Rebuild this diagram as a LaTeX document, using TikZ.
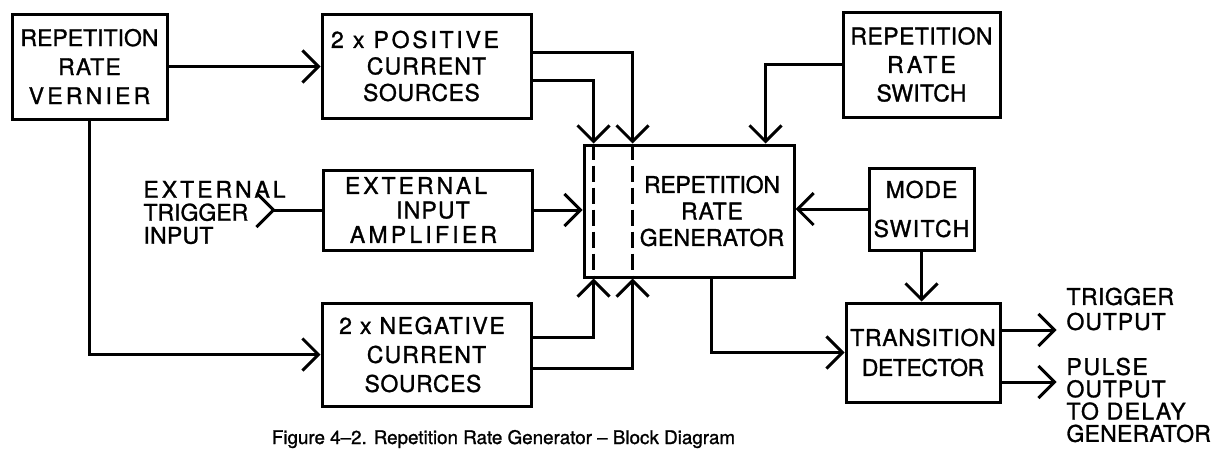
\documentclass[tikz,border=0pt]{standalone}
\usepackage{fontspec}
\setmainfont{TeX Gyre Heros}[FakeBold=1.2]
\usetikzlibrary{arrows.meta,calc}
\newcommand\ls[2]{{\addfontfeature{LetterSpace=#1}#2}}
\begin{document}
\begin{tikzpicture}[x=1pt,y=-1pt,line width=3pt,
  box/.style={draw,line width=3pt,inner sep=0pt,align=center},
  fs/.style={font=\fontsize{23}{#1}\selectfont},
  lbl/.style={inner sep=0pt,align=left},
  dashline/.style={line width=3pt,dash pattern=on 16pt off 6pt},
  >={Straight Barb[length=16pt,width=32pt]}]
\useasboundingbox (0,0) rectangle (1219,453);
% boxes
\node[box,fs=29,minimum width=155pt,minimum height=105pt] (ver) at (89.5,66.5)
  {\ls{0}{REPETITION}\\\ls{5}{RATE}\\\ls{14}{VERNIER}};
\node[box,fs=26.5,minimum width=209pt,minimum height=104pt] (pos) at (426.5,66)
  {\ls{12}{2 x POSITIVE}\hspace*{23pt}\\\ls{5}{CURRENT}\hspace*{8pt}\\\ls{2.5}{SOURCES}\hspace*{10pt}};
\node[box,fs=28.5,minimum width=157pt,minimum height=105pt] (sw) at (921.5,64.5)
  {\ls{2}{REPETITION}\\\ls{14}{RATE}\\\ls{1}{SWITCH}};
\node[box,fs=26.5,minimum width=210pt,minimum height=132pt] (gen) at (689,211)
  {\hspace*{46pt}\ls{-1}{REPETITION}\\\hspace*{46pt}\ls{4}{RATE}\\\hspace*{46pt}\ls{1}{GENERATOR}};
\node[box,fs=24.5,minimum width=209pt,minimum height=80pt] (amp) at (427.5,210)
  {\ls{13}{EXTERNAL}\hspace*{23pt}\\\hspace*{11pt}\ls{5}{INPUT}\\\ls{14}{AMPLIFIER}\hspace*{8pt}};
\node[box,fs=39,minimum width=105pt,minimum height=82pt] (mode) at (921.5,209)
  {\ls{4}{MODE}\\\ls{6}{SWITCH}};
\node[box,fs=29,minimum width=209pt,minimum height=103pt] (neg) at (426.5,354.5)
  {\ls{7}{2 x NEGATIVE}\hspace*{9pt}\\\ls{5}{CURRENT}\hspace*{8pt}\\\ls{2.5}{SOURCES}\hspace*{7pt}};
\node[box,fs=30,minimum width=154pt,minimum height=99pt] (td) at (923,352.5)
  {\ls{3}{TRANSITION}\\\ls{-2}{DETECTOR}};
% dashed lines inside generator
\coordinate (g1t) at ($(gen.north west)+(11,0)$);
\coordinate (g2t) at ($(gen.north west)+(50,0)$);
\coordinate (g1b) at ($(gen.south west)+(11,0)$);
\coordinate (g2b) at ($(gen.south west)+(50,0)$);
\draw[dashline] (g1t) -- (g1b);
\draw[dashline] (g2t) -- (g2b);
% connectors
\draw[->] (ver.east) -- (ver.east -| pos.west);
\draw[->] (ver.south) |- (neg.west);
\draw[->] ($(pos.east)+(0,-14)$) -| (g2t);
\draw[->] ($(pos.east)+(0,14)$) -| (g1t);
\draw[->] ($(neg.east)+(0,-17.5)$) -| (g1b);
\draw[->] ($(neg.east)+(0,13.5)$) -| (g2b);
\draw[->] (sw.west) -| ($(gen.north west)+(183,0)$);
\draw[->] (amp.east) -- (amp.east -| gen.west);
\draw[->] (mode.west) -- (mode.west -| gen.east);
\draw[->] (mode.south) -- (mode.south |- td.north);
\draw[->] ($(gen.south west)+(129,0)$) |- (td.west);
\draw (amp.west) -- ++(-48,0) coordinate (ein);
\draw[line join=miter] (ein) ++(-17,-17) -- (ein) -- ++(-17,17);
\draw[->] ($(td.east)+(0,-22.5)$) -- ++(55,0) coordinate (tout);
\draw[->] ($(td.east)+(0,29.5)$) -- ++(55,0) coordinate (pout);
% labels
\node[lbl,fs=23,anchor=west] (extlbl) at (142,212.5)
  {\ls{13}{EXTERNAL}\\\ls{0}{TRIGGER}\\\ls{1}{INPUT}};
\node[lbl,fs=25,anchor=west] (triglbl) at (1065,309)
  {\ls{2}{TRIGGER}\\\ls{4}{OUTPUT}};
\node[lbl,fs=22.3,anchor=west] (pulselbl) at (1065,400)
  {\ls{7}{PULSE}\\\ls{4}{OUTPUT}\\\ls{6}{TO DELAY}\\\ls{1}{GENERATOR}};
\node[inner sep=0pt,anchor=base,font=\fontsize{18.8}{20}\selectfont] (caption) at (503.5,444)
  {Figure 4--2. Repetition Rate Generator -- Block Diagram};
\end{tikzpicture}
\end{document}
